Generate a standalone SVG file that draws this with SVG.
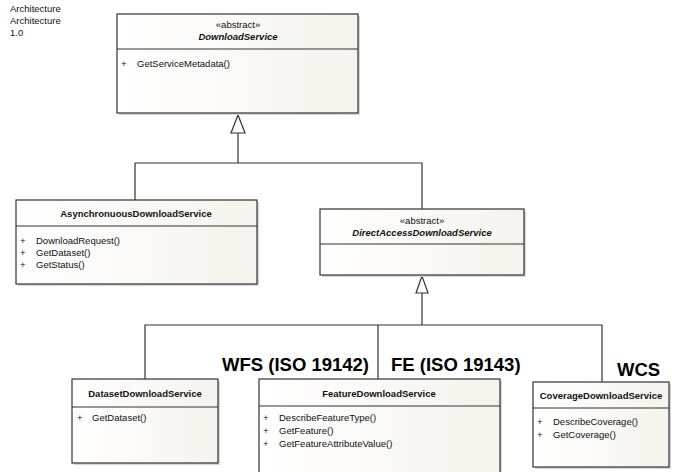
<svg xmlns="http://www.w3.org/2000/svg" width="675" height="472" viewBox="0 0 675 472">
<defs>
<linearGradient id="bg" x1="0" y1="0" x2="1" y2="0">
<stop offset="0" stop-color="#ffffff"/>
<stop offset="1" stop-color="#f6f3ee"/>
</linearGradient>
</defs>
<style>
.box{fill:url(#bg);stroke:#333;stroke-width:1.2}
.sh{fill:#d8d8d8}
.div{stroke:#333;stroke-width:1}
.t{font-family:"Liberation Sans",Arial,sans-serif;font-size:9.5px;fill:#111}
.b{font-weight:bold}
.i{font-style:italic;font-weight:bold}
.m{text-anchor:middle}
.lbl{font-family:"Liberation Sans",Arial,sans-serif;font-size:18.5px;font-weight:bold;fill:#000}
.c{fill:none;stroke:#333;stroke-width:1.2}
.tri{fill:#fff;stroke:#333;stroke-width:1.2}
</style>
<rect width="675" height="472" fill="#fff"/>
<g id="header">
<text class="t" x="10" y="12" font-size="9px">Architecture</text>
<text class="t" x="10" y="24" font-size="9px">Architecture</text>
<text class="t" x="10" y="36" font-size="9px">1.0</text>
</g>
<g id="connectors">
<polyline class="c" points="238,133 238,163"/>
<polyline class="c" points="135,200 135,163 422,163 422,209"/>
<polygon class="tri" points="238,115 231,133 245,133"/>
<polyline class="c" points="422,293 422,325"/>
<polyline class="c" points="145,379 145,325 602,325 602,382"/>
<polyline class="c" points="378,325 378,379"/>
<polygon class="tri" points="422,276 416,293 428,293"/>
</g>
<g id="DownloadService">
<rect class="sh" x="119" y="16" width="241" height="99"/>
<rect class="box" x="117" y="14" width="241" height="99"/>
<line class="div" x1="117" y1="49" x2="358" y2="49"/>
<text class="t m" x="238" y="28">«abstract»</text>
<text class="t i m" x="238" y="40">DownloadService</text>
<text class="t" x="121" y="67">+</text>
<text class="t" x="137" y="67">GetServiceMetadata()</text>
</g>
<g id="AsynchronuousDownloadService">
<rect class="sh" x="18" y="202" width="241" height="84"/>
<rect class="box" x="16" y="200" width="241" height="84"/>
<line class="div" x1="16" y1="226" x2="257" y2="226"/>
<text class="t b m" x="136" y="217">AsynchronuousDownloadService</text>
<text class="t" x="20" y="244">+</text>
<text class="t" x="36" y="244">DownloadRequest()</text>
<text class="t" x="20" y="256">+</text>
<text class="t" x="36" y="256">GetDataset()</text>
<text class="t" x="20" y="268">+</text>
<text class="t" x="36" y="268">GetStatus()</text>
</g>
<g id="DirectAccessDownloadService">
<rect class="sh" x="322" y="211" width="204" height="66"/>
<rect class="box" x="320" y="209" width="204" height="66"/>
<line class="div" x1="320" y1="244" x2="524" y2="244"/>
<text class="t m" x="422" y="224">«abstract»</text>
<text class="t i m" x="422" y="236">DirectAccessDownloadService</text>
</g>
<g id="DatasetDownloadService">
<rect class="sh" x="74" y="381" width="146" height="84"/>
<rect class="box" x="72" y="379" width="146" height="84"/>
<line class="div" x1="72" y1="407" x2="218" y2="407"/>
<text class="t b m" x="145" y="397">DatasetDownloadService</text>
<text class="t" x="77" y="421">+</text>
<text class="t" x="92" y="421">GetDataset()</text>
</g>
<g id="FeatureDownloadService">
<rect class="sh" x="261" y="381" width="241" height="100"/>
<rect class="box" x="259" y="379" width="241" height="100"/>
<line class="div" x1="259" y1="406" x2="500" y2="406"/>
<text class="t b m" x="379" y="397">FeatureDownloadService</text>
<text class="t" x="263" y="421">+</text>
<text class="t" x="279" y="421">DescribeFeatureType()</text>
<text class="t" x="263" y="434">+</text>
<text class="t" x="279" y="434">GetFeature()</text>
<text class="t" x="263" y="447">+</text>
<text class="t" x="279" y="447">GetFeatureAttributeValue()</text>
</g>
<g id="CoverageDownloadService">
<rect class="sh" x="535" y="384" width="136" height="85"/>
<rect class="box" x="533" y="382" width="136" height="85"/>
<line class="div" x1="533" y1="408" x2="669" y2="408"/>
<text class="t b m" x="601" y="399">CoverageDownloadService</text>
<text class="t" x="537" y="425">+</text>
<text class="t" x="553" y="425">DescribeCoverage()</text>
<text class="t" x="537" y="438">+</text>
<text class="t" x="553" y="438">GetCoverage()</text>
</g>
<g id="labels">
<text class="lbl" x="222" y="371">WFS (ISO 19142)</text>
<text class="lbl" x="391" y="371">FE (ISO 19143)</text>
<text class="lbl" x="617" y="376">WCS</text>
</g>
</svg>
